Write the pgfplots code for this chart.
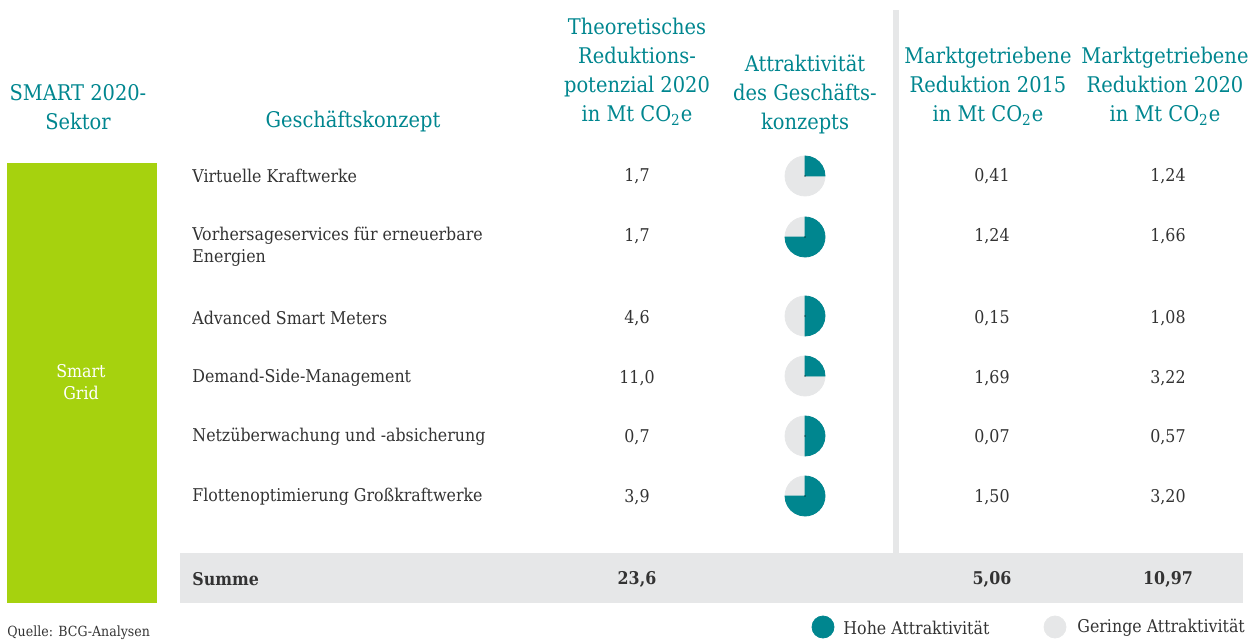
\documentclass[border=0pt]{standalone}
\usepackage{pgfplots}
\pgfplotsset{compat=1.18}
\usepackage{pgfplotstable}
\usepackage{fontspec}
\setmainfont{DejaVu Serif Condensed}
\definecolor{bcgteal}{HTML}{00868F}
\definecolor{bcggreen}{HTML}{A6D20E}
\definecolor{bcggray}{HTML}{E6E7E8}
\definecolor{txt}{HTML}{333333}

\pgfplotstableread{
y py theo frac m15 m20
176 176 1.7 0.25 0.41 1.24
236 237 1.7 0.75 1.24 1.66
318 316 4.6 0.50 0.15 1.08
378 376 11.0 0.25 1.69 3.22
437 436 0.7 0.50 0.07 0.57
497 496 3.9 0.75 1.50 3.20
}\rows
\pgfplotstableread{
y theo m15 m20
579 23.6 5.06 10.97
}\sums

\newcommand\hd{\fontsize{10.8}{14.5}\selectfont}
\newcommand\bd{\fontsize{8.8}{11}\selectfont}

\begin{document}
\begin{tikzpicture}[every node/.append style={inner sep=0pt}]
\begin{axis}[
  scale only axis, width=627pt, height=321pt,
  xmin=0, xmax=1254, ymin=0, ymax=642, y dir=reverse,
  hide axis, clip=false,
  point meta min=0, point meta max=1,
]
\coordinate (BL) at (axis cs:0,642);
\coordinate (TR) at (axis cs:1254,0);
% backgrounds
\fill[bcggreen] (axis cs:7,163) rectangle (axis cs:157,603);
\fill[bcggray] (axis cs:180,553) rectangle (axis cs:1243,603);
\fill[bcggray] (axis cs:893,10) rectangle (axis cs:899,553);

% headers
\node[text=bcgteal, font=\hd, align=center] at (axis cs:78,107) {SMART 2020-\\Sektor};
\node[text=bcgteal, font=\hd, anchor=base] at (axis cs:353,128) {Geschäftskonzept};
\node[text=bcgteal, font=\hd, align=center] at (axis cs:637,72) {Theoretisches\\Reduktions-\\potenzial 2020\\in Mt CO\textsubscript{2}e};
\node[text=bcgteal, font=\hd, align=center] at (axis cs:805,94) {Attraktivität\\des Geschäfts-\\konzepts};
\node[text=bcgteal, font=\hd, align=center] at (axis cs:988,86) {Marktgetriebene\\Reduktion 2015\\in Mt CO\textsubscript{2}e};
\node[text=bcgteal, font=\hd, align=center] at (axis cs:1165,86) {Marktgetriebene\\Reduktion 2020\\in Mt CO\textsubscript{2}e};

% sector
\node[text=white, font=\bd, align=center] at (axis cs:81,382) {Smart\\Grid};

% row labels
\begin{scope}[every node/.style={inner sep=0pt, text=txt, font=\bd, anchor=west, align=left}]
\node at (axis cs:192,176) {Virtuelle Kraftwerke};
\node at (axis cs:192,247) {Vorhersageservices für erneuerbare\\Energien};
\node at (axis cs:192,318) {Advanced Smart Meters};
\node at (axis cs:192,378) {Demand-Side-Management};
\node at (axis cs:192,437) {Netzüberwachung und -absicherung};
\node at (axis cs:192,497) {Flottenoptimierung Großkraftwerke};
\node[font=\bd\bfseries] at (axis cs:192,579) {Summe};
\end{scope}

% values
\pgfplotsset{valstyle/.style={draw=none, mark=none, nodes near coords,
  nodes near coords style={anchor=center, text=txt, font=\bd,
    /pgf/number format/.cd, use comma, fixed, fixed zerofill, precision=#1, assume math mode=true}}}
\pgfplotsset{sumstyle/.style={draw=none, mark=none, nodes near coords,
  nodes near coords style={anchor=center, text=txt, font=\bd\bfseries,
    /pgf/number format/.cd, use comma, fixed, fixed zerofill, precision=#1, assume math mode=true}}}
\addplot[valstyle=1, point meta=\thisrow{theo}] table[x expr=637, y=y] {\rows};
\addplot[valstyle=2, point meta=\thisrow{m15}] table[x expr=992, y=y] {\rows};
\addplot[valstyle=2, point meta=\thisrow{m20}] table[x expr=1168, y=y] {\rows};
\addplot[sumstyle=1, point meta=\thisrow{theo}] table[x expr=637, y=y] {\sums};
\addplot[sumstyle=2, point meta=\thisrow{m15}] table[x expr=992, y=y] {\sums};
\addplot[sumstyle=2, point meta=\thisrow{m20}] table[x expr=1168, y=y] {\sums};

% pies
\addplot[scatter, only marks, mark=*, mark size=0.01pt, mark options={draw=none, fill=none},
  point meta=\thisrow{frac},
  scatter/@pre marker code/.code={%
    \pgfmathsetmacro\pieang{90-0.36*\pgfplotspointmetatransformed}%
    \fill[bcggray] (0,0) -- (0pt,10pt) arc[start angle=90, end angle=\pieang-360, radius=10pt] -- cycle;
    \fill[bcgteal] (0,0) -- (0pt,10pt) arc[start angle=90, end angle=\pieang, radius=10pt] -- cycle;
  },
  scatter/@post marker code/.code={}]
  table[x expr=805, y=py] {\rows};

% legend
\addplot[only marks, mark=*, mark size=5.5pt, color=bcgteal] coordinates {(823,627)};
\addplot[only marks, mark=*, mark size=5.5pt, color=bcggray] coordinates {(1055,627)};
\node[text=txt, font=\bd, anchor=west] at (axis cs:843,628) {Hohe Attraktivität};
\node[text=txt, font=\bd, anchor=west] at (axis cs:1077,628) {Geringe Attraktivität};

\node[text=txt, font=\fontsize{7}{9}\selectfont, anchor=west] at (axis cs:7,633) {Quelle: BCG-Analysen};
\end{axis}
\pgfresetboundingbox
\useasboundingbox (BL) rectangle (TR);
\end{tikzpicture}
\end{document}
